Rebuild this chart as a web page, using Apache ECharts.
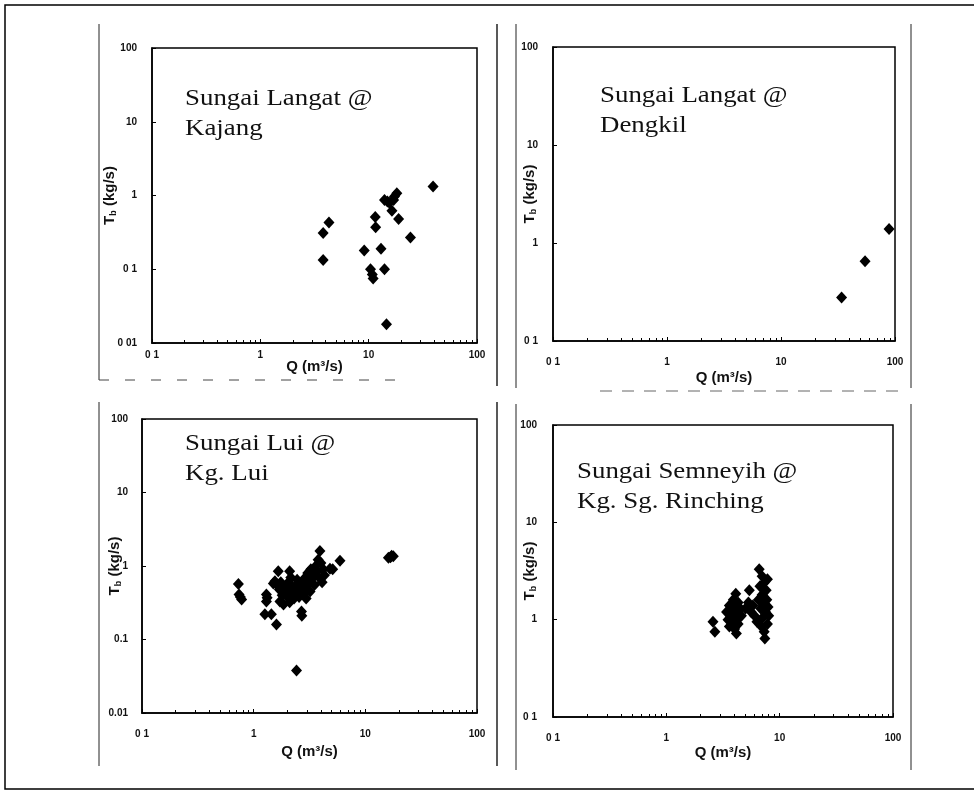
<!DOCTYPE html>
<html><head><meta charset="utf-8">
<script src="https://cdn.jsdelivr.net/npm/echarts@6/dist/echarts.min.js"></script>
<style>html,body{margin:0;padding:0;background:#fff}#c{width:974px;height:792px}</style>
</head><body><div id="c"></div>
<script>
// ---- data (Q m3/s, Tb kg/s) ----
const kajang = [[3.8,0.31],[4.3,0.43],[3.8,0.134],[9.1,0.18],[10.4,0.1],[10.8,0.085],[11.0,0.075],
  [11.5,0.51],[11.6,0.37],[13.0,0.19],[14.0,0.1],[14.6,0.018],[14.0,0.87],[14.9,0.83],[15.5,0.8],
  [16.4,0.62],[17.0,0.87],[17.3,0.97],[18.2,1.07],[18.9,0.48],[24.3,0.27],[39.3,1.32]];
const dengkil = [[34,0.278],[54.6,0.65],[88.7,1.39]];
const lui = [[0.73,0.57],[0.74,0.41],[0.78,0.35],[0.76,0.38],
  [1.3,0.41],[1.3,0.33],[1.32,0.37],[1.26,0.22],[1.44,0.22],[1.6,0.16],
  [1.66,0.85],[1.55,0.62],[1.5,0.58],[1.62,0.55],[1.7,0.48],[1.75,0.6],[1.8,0.4],[1.72,0.33],
  [1.85,0.3],[1.9,0.52],[1.95,0.45],[2.0,0.38],[2.05,0.6],[2.1,0.85],[2.15,0.7],[2.2,0.5],
  [2.25,0.42],[2.1,0.32],[2.3,0.36],[2.4,0.55],[2.45,0.65],[2.5,0.45],[2.55,0.38],[2.6,0.5],
  [2.68,0.24],[2.7,0.21],[2.75,0.6],[2.8,0.42],[2.85,0.52],[2.9,0.7],[2.95,0.36],[3.0,0.48],
  [3.05,0.8],[3.1,0.58],[3.2,0.45],[3.25,0.9],[3.3,0.66],[3.4,0.75],[3.5,0.55],[3.6,1.0],
  [3.7,0.85],[3.78,1.22],[3.85,0.7],[3.92,1.6],[4.0,1.1],[4.1,0.6],[4.2,0.9],[4.3,0.75],
  [4.82,0.92],[5.1,0.9],[5.93,1.18],[2.42,0.038],[16.1,1.3],[16.8,1.32],[17.2,1.38],[17.8,1.36]];
const semenyih = [[2.58,0.95],[2.68,0.75],
  [3.4,1.2],[3.5,1.0],[3.6,1.4],[3.6,0.85],[3.7,1.1],[3.8,1.3],[3.8,0.95],[3.9,1.6],[3.9,1.15],
  [4.0,0.8],[4.0,1.05],[4.1,1.85],[4.1,1.4],[4.15,0.72],[4.2,1.2],[4.3,0.9],[4.3,1.5],[4.4,1.05],
  [4.5,1.3],[4.6,1.1],
  [5.4,2.0],[5.0,1.3],[5.3,1.5],[5.6,1.2],[5.8,1.4],[6.0,1.1],
  [6.3,0.95],[6.5,1.6],[6.6,3.3],[6.7,2.2],[6.8,1.3],[6.9,0.85],[7.0,2.8],[7.0,1.8],[7.1,1.05],
  [7.2,1.45],[7.3,2.4],[7.3,0.75],[7.4,0.64],[7.5,1.2],[7.6,2.0],[7.7,1.6],[7.8,2.6],[7.8,0.9],
  [7.9,1.35],[8.0,1.1]];

// ---- tick labels as printed ----
const xTickLabels = ['0 1','1','10','100'];
const yTicks1 = ['0 01','0 1','1','10','100'];
const yTicks2 = ['0 1','1','10','100'];
const yTicks3 = ['0.01','0.1','1','10','100'];
const yTicks4 = ['0 1','1','10','100'];
const panelTitles = ['Sungai Langat @\nKajang','Sungai Langat @\nDengkil','Sungai Lui @\nKg. Lui','Sungai Semneyih @\nKg. Sg. Rinching'];

const grids = [
  {left:152, top:48, width:325, height:295},
  {left:553, top:47, width:342, height:294},
  {left:142, top:419, width:335, height:294},
  {left:553, top:425, width:340, height:292}
];
const yMins = [0.01, 0.1, 0.01, 0.1];
const yLabels = [yTicks1, yTicks2, yTicks3, yTicks4];
const yNameGap = [34, 15, 19, 15];
const yLabelMargin = [15, 15, 14, 16];
const xLabelMargin = [7, 16, 16, 16];
const xNameGap = [16, 29, 31, 28];
const sets = [kajang, dengkil, lui, semenyih];

const labelFont = {fontFamily:'Liberation Sans', fontWeight:'bold', fontSize:10, color:'#111'};
const nameFont = {fontFamily:'Liberation Sans', fontWeight:'bold', fontSize:15, color:'#111'};
function lbl(arr, min){
  return function(v){ const i = Math.round(Math.log10(v) - Math.log10(min)); return arr[i] !== undefined ? arr[i] : ''; };
}

const option = {
  backgroundColor:'#fff',
  animation:false,
  grid: grids.map(g => Object.assign({show:true, borderColor:'#000', borderWidth:1.5, backgroundColor:'transparent'}, g)),
  xAxis: grids.map((g,i) => ({
    type:'log', logBase:10, min:0.1, max:100, gridIndex:i,
    name:'Q (m³/s)', nameLocation:'middle', nameGap:xNameGap[i], nameMoveOverlap:false,
    nameTextStyle:nameFont,
    axisLine:{show:true, lineStyle:{color:'#000', width:1.5}},
    axisTick:{show:true, inside:true, length:4, lineStyle:{color:'#000'}},
    minorTick:{show:true, splitNumber:9, length:3, lineStyle:{color:'#000'}},
    splitLine:{show:false}, minorSplitLine:{show:false},
    axisLabel:Object.assign({margin:xLabelMargin[i], formatter:lbl(xTickLabels,0.1), showMinLabel:true, showMaxLabel:true}, labelFont)
  })),
  yAxis: grids.map((g,i) => ({
    type:'log', logBase:10, min:yMins[i], max:100, gridIndex:i,
    name:'{t|T}{s|b}{t| (kg/s)}', nameLocation:'middle', nameGap:yNameGap[i], nameRotate:90, nameMoveOverlap:false,
    nameTextStyle:Object.assign({rich:{t:nameFont,
            s:{fontFamily:'Liberation Sans', fontWeight:'bold', fontSize:9, color:'#111', padding:[7,0,0,0]}}}, nameFont),
    axisLine:{show:true, lineStyle:{color:'#000', width:1.5}},
    axisTick:{show:true, inside:true, length:4, lineStyle:{color:'#000'}},
    splitLine:{show:false},
    axisLabel:Object.assign({margin:yLabelMargin[i], formatter:lbl(yLabels[i], yMins[i])}, labelFont)
  })),
  series: sets.map((d,i) => ({
    type:'scatter', xAxisIndex:i, yAxisIndex:i, data:d,
    symbol:'diamond', symbolSize:[11,12],
    itemStyle:{color:'#000', opacity:1}
  })),
  graphic: [
    // outer frame
    {type:'polyline', shape:{points:[[974,5],[5,5],[5,789],[974,789]]}, style:{stroke:'#000', lineWidth:1.5, fill:null}},
    // panel brackets
    {type:'line', shape:{x1:99,y1:24,x2:99,y2:380}, style:{stroke:'#222', lineWidth:1}},
    {type:'line', shape:{x1:497,y1:24,x2:497,y2:386}, style:{stroke:'#222', lineWidth:1.5}},
    {type:'line', shape:{x1:99,y1:380,x2:400,y2:380}, style:{stroke:'#444', lineWidth:1, lineDash:[10,16]}},
    {type:'line', shape:{x1:516,y1:24,x2:516,y2:388}, style:{stroke:'#222', lineWidth:1}},
    {type:'line', shape:{x1:911,y1:24,x2:911,y2:388}, style:{stroke:'#222', lineWidth:1}},
    {type:'line', shape:{x1:600,y1:391,x2:900,y2:391}, style:{stroke:'#666', lineWidth:1, lineDash:[12,10]}},
    {type:'line', shape:{x1:99,y1:402,x2:99,y2:766}, style:{stroke:'#222', lineWidth:1}},
    {type:'line', shape:{x1:497,y1:402,x2:497,y2:766}, style:{stroke:'#222', lineWidth:1.5}},
    {type:'line', shape:{x1:516,y1:404,x2:516,y2:770}, style:{stroke:'#222', lineWidth:1}},
    {type:'line', shape:{x1:911,y1:404,x2:911,y2:770}, style:{stroke:'#222', lineWidth:1}},
    // panel titles
    {type:'text', left:185, top:84, scaleX:1.12, style:{text:panelTitles[0], font:'24px "Liberation Serif"', lineHeight:30, fill:'#111'}},
    {type:'text', left:600, top:81, scaleX:1.12, style:{text:panelTitles[1], font:'24px "Liberation Serif"', lineHeight:30, fill:'#111'}},
    {type:'text', left:185, top:429, scaleX:1.12, style:{text:panelTitles[2], font:'24px "Liberation Serif"', lineHeight:30, fill:'#111'}},
    {type:'text', left:577, top:457, scaleX:1.12, style:{text:panelTitles[3], font:'24px "Liberation Serif"', lineHeight:30, fill:'#111'}}
  ]
};
const chart = echarts.init(document.getElementById('c'), null, {renderer:'canvas'});
chart.setOption(option);
</script></body></html>
